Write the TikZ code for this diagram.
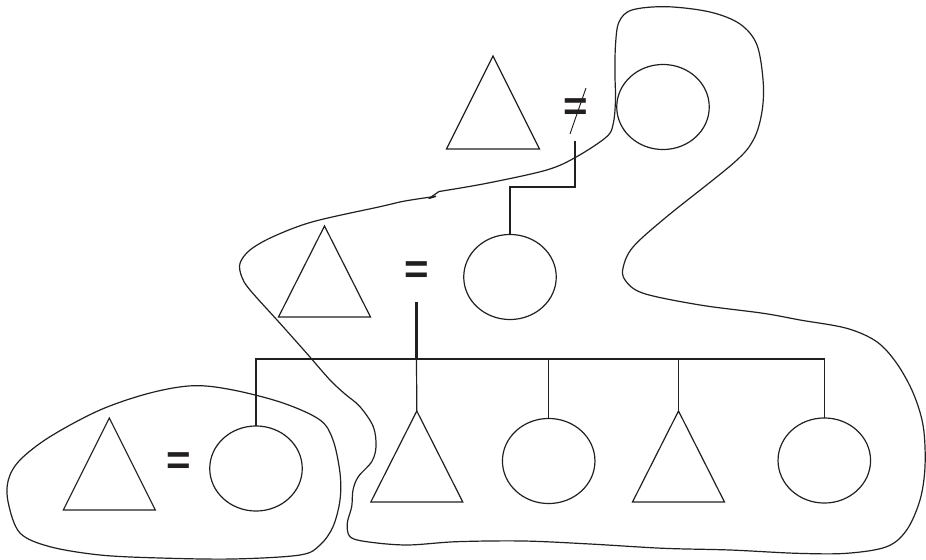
\documentclass[tikz,border=0pt]{standalone}
\usepackage{fontspec}
\newfontfamily\eqfont{Liberation Sans}
\usetikzlibrary{shapes.geometric}
\definecolor{ink}{HTML}{231F20}
\tikzset{
  ln/.style={line width=0.9pt, draw=ink},
  thk/.style={line width=1.6pt, draw=ink},
  circ/.style={ellipse, draw=ink, line width=0.9pt, inner sep=0pt, outer sep=0pt,
               minimum width=69.4pt, minimum height=63.8pt},
  eqsign/.style={inner sep=0pt, text=ink, font=\eqfont\bfseries\fontsize{31.5}{31.5}\selectfont},
  blob/.style={line width=0.9pt, draw=ink, smooth, tension=0.55}
}
\begin{document}
\begin{tikzpicture}[x=0.75pt, y=-0.75pt]
\useasboundingbox (0,0) rectangle (926,560);

% ---------- top couple ----------
\coordinate (T0) at (493,56);
\draw[ln] (T0) -- ++(-46.5,93) -- ++(93,0) -- cycle;
\node[eqsign] (E0) at (576,110) {=};
\draw[line width=0.7pt, draw=ink] (586,88) -- (570,134);
\node[circ] (C0) at (663,107) {};
\coordinate (m0) at (575,141);

% ---------- middle couple ----------
\coordinate (T1) at (324.5,226);
\draw[ln] (T1) -- ++(-46,91) -- ++(92,0) -- cycle;
\node[eqsign] (E1) at (417,272.7) {=};
\node[circ] (C1) at (510,277) {};
\draw[ln] (m0) -- ++(0,46) -| (C1.north);

% ---------- children ----------
\node[circ] (C2) at (256,468.5) {};
\coordinate (T3) at (416.8,411);
\node[circ] (C3) at (548.7,461) {};
\coordinate (T4) at (678.5,411);
\node[circ] (C4) at (824.3,460.5) {};

\coordinate (m1) at (416.5,302);
\coordinate (sib) at (416.5,359);
\draw[thk] (m1) -- (sib);
\draw[ln] (C2.north) |- (sib) -| (C4.north);
\draw[thk] (sib) -- (C3.north |- sib);
\draw[ln] (sib) -- (T3);
\draw[ln] (C3.north |- sib) -- (C3.north);
\draw[ln] (T4 |- sib) -- (T4);
\draw[ln] (T3) -- ++(-46,91) -- ++(92,0) -- cycle;
\draw[ln] (T4) -- ++(-46,91) -- ++(92,0) -- cycle;

% ---------- bottom-left couple ----------
\coordinate (T2) at (109.3,418);
\draw[ln] (T2) -- ++(-46,92) -- ++(92,0) -- cycle;
\node[eqsign] (E2) at (178.3,463.3) {=};

% ---------- enclosing curves ----------
\draw[blob] plot coordinates {
 (436,196.3) (405,201) (380,206.7) (313,221.7) (273,236.7) (250,250) (240,263.3)
 (241.7,276.7) (250,290) (280,323.3) (306.7,353.3) (330,380) (345,394) (360,406.7)
 (373.3,426.7) (376,446.7) (371.7,461.7) (358.3,476.7) (353,490) (351.7,506.7)
 (347.3,523.3) (350,536.7) (366.7,541.7) (406.7,545) (456.7,541.7) (523.3,541)
 (590,544) (663.3,548.3) (730,550) (796.7,553.3) (846.7,553.3) (886.7,546.7)
 (906.7,530) (920,500) (925,466.7) (923.3,426.7) (913.3,393.3) (896.7,363.3)
 (876.7,341.7) (846.7,328.3) (800,320) (763.3,313.3) (700,305) (643.3,293.3)
 (625,280) (623.3,266.7) (633.3,246.7) (666.7,216.7) (733.3,163.3) (753.3,140)
 (761.7,113.3) (763.3,83.3) (757,45) (740,24) (710,12) (666.7,6.7)
 (632,10) (619,22) (615.5,45) (615,75) (615.5,100) (613.3,123.3) (606.7,136.7)
 (576.7,156.7) (546.7,170) (486.7,183.3) (439,191.5)};
\draw[ln, line join=round] (439,191.5) -- (429,198.5) -- (436,196.3);

\draw[blob] plot[smooth cycle] coordinates {
 (193.3,385.7) (233,390) (283,403) (320,420) (333,440) (340,473) (340,500)
 (333,526.7) (320,545) (300,555) (233,559) (160,558) (100,555) (50,546.7)
 (20,533) (8.3,503) (8.3,480) (20,460) (50,436.7) (100,410) (150,393)};
\end{tikzpicture}
\end{document}
